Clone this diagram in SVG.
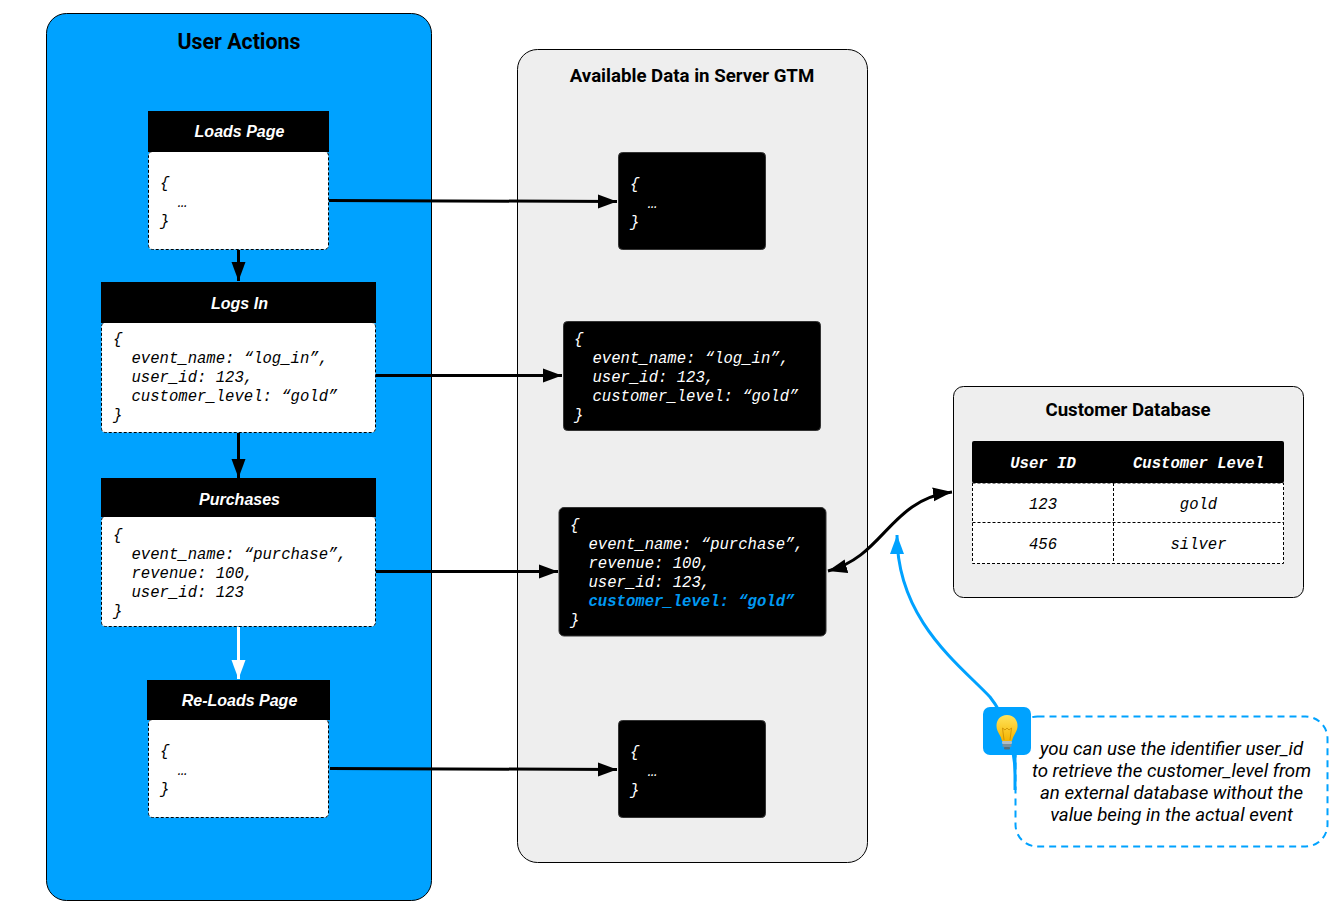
<svg xmlns="http://www.w3.org/2000/svg" width="1341" height="912" viewBox="0 0 1341 912">
<style>
.t{font-family:Roboto,"Liberation Sans",sans-serif}
.m{font-family:"Liberation Mono","DejaVu Sans Mono",monospace;font-style:italic;font-size:15.6px;white-space:pre;transform:translateY(.6px)}
.title{font-weight:700;text-anchor:middle;fill:#000}
.hd{font-family:"Liberation Sans",Arial,sans-serif;font-weight:700;font-style:italic;font-size:16px;fill:#fff;text-anchor:middle}
.card{fill:#fff;stroke:#000;stroke-width:1;stroke-dasharray:3 2}
.dk{fill:#000;stroke:#333;stroke-width:1}
.w{fill:#fff}.k{fill:#000}
.c{fill:none;stroke:#000;stroke-width:3}
.mid{text-anchor:middle}
</style>
<defs>
<marker id="ak" markerUnits="userSpaceOnUse" markerWidth="20" markerHeight="16" refX="19" refY="8" orient="auto-start-reverse"><path d="M0 1L19 8L0 15Z" fill="#000"/></marker>
<marker id="aw" markerUnits="userSpaceOnUse" markerWidth="20" markerHeight="16" refX="19" refY="8" orient="auto"><path d="M0 1L19 8L0 15Z" fill="#fff"/></marker>
<marker id="ab" markerUnits="userSpaceOnUse" markerWidth="20" markerHeight="16" refX="19" refY="8" orient="auto"><path d="M0 1L19 8L0 15Z" fill="#00a2ff"/></marker>
<linearGradient id="gl" x1="0" y1="0" x2="0" y2="1"><stop offset="0" stop-color="#ffe45c"/><stop offset="1" stop-color="#f5b400"/></linearGradient>
</defs>
<g id="user-actions"><rect x="46.500" y="13.500" width="385" height="887" rx="20" fill="#00a2ff" stroke="#000"/><text class="t title" x="239" y="48.700" font-size="21.330">User Actions</text></g>
<g id="server-gtm"><rect x="517.500" y="49.500" width="350" height="813" rx="20" fill="#eee" stroke="#000"/><text class="t title" x="692" y="81.500" font-size="18.670">Available Data in Server GTM</text></g>
<g id="customer-db"><rect x="953.500" y="386.500" width="350" height="211" rx="10" fill="#eee" stroke="#000"/><text class="t title" x="1128" y="416" font-size="18.670">Customer Database</text>
<rect x="972" y="441" width="312" height="42" rx="2" fill="#000"/>
<path class="card" d="M972.500 483H1283.500V563.500H972.500ZM972.500 522.500H1283.500M1113.500 483V563.500"/>
<g class="m mid"><text x="1043" y="467" fill="#fff" font-weight="700">User ID</text><text x="1198.500" y="467" fill="#fff" font-weight="700">Customer Level</text><text x="1043" y="508">123</text><text x="1198.500" y="508">gold</text><text x="1043" y="548">456</text><text x="1198.500" y="548">silver</text></g></g>
<g id="connectors">
<path class="c" d="M329 200.500L617 201.500" marker-end="url(#ak)"/>
<path class="c" d="M376 375.500H562" marker-end="url(#ak)"/>
<path class="c" d="M376 571.500H558" marker-end="url(#ak)"/>
<path class="c" d="M330 768.500L617 769.500" marker-end="url(#ak)"/>
<path class="c" d="M238.500 250V281" marker-end="url(#ak)"/>
<path class="c" d="M238.500 433V478" marker-end="url(#ak)"/>
<path d="M238.500 627V679" fill="none" stroke="#fff" stroke-width="3" marker-end="url(#aw)"/>
<path class="c" d="M828 571C885 556 889 500 952 492" marker-start="url(#ak)" marker-end="url(#ak)"/>
<path d="M1016 790C1016 760 1012 725 990 697C960 665 897 620 897 535" fill="none" stroke="#00a2ff" stroke-width="3" marker-end="url(#ab)"/>
</g>
<g id="loads-page"><rect class="card" x="148.500" y="151.500" width="180" height="98" rx="4"/><rect class="k" x="148" y="111" width="181" height="41"/><text class="hd" x="239.500" y="137">Loads Page</text>
<g class="m"><text x="160" y="187">{</text><text x="178" y="206">…</text><text x="160" y="225">}</text></g></g>
<g id="logs-in"><rect class="card" x="101.500" y="322.500" width="274" height="110" rx="4"/><rect class="k" x="101" y="282" width="275" height="41"/><text class="hd" x="239.500" y="308.600">Logs In</text>
<g class="m"><text x="113" y="343">{</text><text x="131.500" y="362">event_name: “log_in”,</text><text x="131.500" y="381">user_id: 123,</text><text x="131.500" y="400">customer_level: “gold”</text><text x="113" y="419">}</text></g></g>
<g id="purchases"><rect class="card" x="101.500" y="516.500" width="274" height="110" rx="4"/><rect class="k" x="101" y="478" width="275" height="39"/><text class="hd" x="239.500" y="505">Purchases</text>
<g class="m"><text x="113" y="539">{</text><text x="131.500" y="558">event_name: “purchase”,</text><text x="131.500" y="577">revenue: 100,</text><text x="131.500" y="596">user_id: 123</text><text x="113" y="615">}</text></g></g>
<g id="reloads-page"><rect class="card" x="148.500" y="719.500" width="180" height="98" rx="4"/><rect class="k" x="147" y="680" width="183" height="40"/><text class="hd" x="239.500" y="706">Re-Loads Page</text>
<g class="m"><text x="160" y="755">{</text><text x="178" y="774">…</text><text x="160" y="793">}</text></g></g>
<g id="data-empty-1"><rect class="dk" x="618.500" y="152.500" width="147" height="97" rx="4"/><g class="m" fill="#fff"><text x="630" y="188">{</text><text x="648" y="207">…</text><text x="630" y="226">}</text></g></g>
<g id="data-login"><rect class="dk" x="563.500" y="321.500" width="257" height="109" rx="4"/><g class="m" fill="#fff"><text x="574" y="343">{</text><text x="592.500" y="362">event_name: “log_in”,</text><text x="592.500" y="381">user_id: 123,</text><text x="592.500" y="400">customer_level: “gold”</text><text x="574" y="419">}</text></g></g>
<g id="data-purchase"><rect class="dk" x="559" y="507.500" width="267" height="128.500" rx="5"/><g class="m" fill="#fff"><text x="570" y="529">{</text><text x="588.500" y="548">event_name: “purchase”,</text><text x="588.500" y="567">revenue: 100,</text><text x="588.500" y="586">user_id: 123,</text><text x="588.500" y="605" fill="#0099f2" font-weight="700">customer_level: “gold”</text><text x="570" y="624">}</text></g></g>
<g id="data-empty-2"><rect class="dk" x="618.500" y="720.500" width="147" height="97" rx="4"/><g class="m" fill="#fff"><text x="630" y="756">{</text><text x="648" y="775">…</text><text x="630" y="794">}</text></g></g>
<g id="note"><rect x="1015.500" y="716.500" width="312" height="130" rx="22" fill="#fff" stroke="#00a2ff" stroke-width="2" stroke-dasharray="7 5"/>
<g class="t" font-size="18.670" font-style="italic" text-anchor="middle" fill="#000"><text x="1171.500" y="755">you can use the identifier user_id</text><text x="1171.500" y="777">to retrieve the customer_level from</text><text x="1171.500" y="799">an external database without the</text><text x="1171.500" y="821">value being in the actual event</text></g></g>
<g id="bulb"><rect x="983" y="707" width="48" height="48" rx="7" fill="#00a2ff"/>
<path d="M1007 715C1000 715 996.500 720 996.500 726C996.500 732 1001 735 1002 741H1012C1013 735 1017.500 732 1017.500 726C1017.500 720 1014 715 1007 715Z" fill="url(#gl)"/>
<path d="M1004 740L1002.500 728L1005 730L1007 728L1009 730L1011.500 728L1010 740" stroke="#c98a00" stroke-width=".8" fill="none"/>
<rect x="1002" y="741" width="10" height="3" rx="1" fill="#b0bec5"/><rect x="1002.500" y="744" width="9" height="3" rx="1" fill="#78909c"/><rect x="1004" y="747" width="6" height="2.500" rx="1" fill="#546e7a"/></g>
<path d="M1015 755V790" fill="none" stroke="#00a2ff" stroke-width="3"/>
</svg>
